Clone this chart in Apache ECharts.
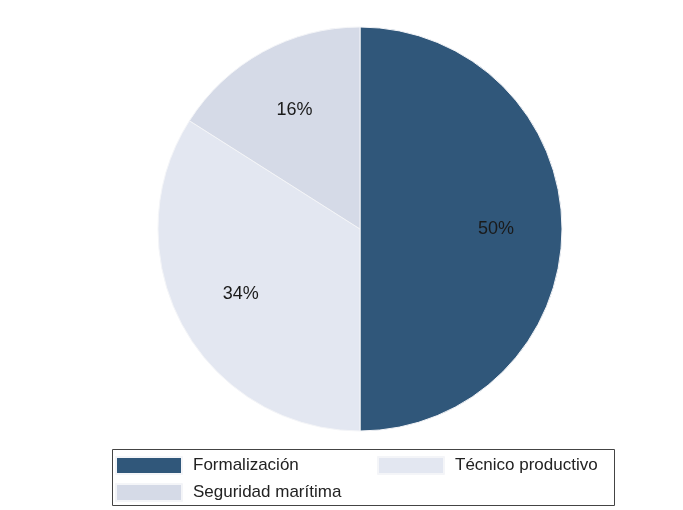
<!DOCTYPE html>
<html>
<head>
<meta charset="utf-8">
<script src="https://cdn.jsdelivr.net/npm/echarts@6/dist/echarts.min.js"></script>
<style>html,body{margin:0;padding:0;background:#fff;}#c{width:683px;height:510px;}</style>
</head>
<body>
<div id="c"></div>
<script>
const categories = ['Formalización', 'Técnico productivo', 'Seguridad marítima'];
const values = [50, 34, 16];
const colors = ['#30577A', '#E3E7F1', '#D5DAE7'];

const chart = echarts.init(document.getElementById('c'), null, {renderer: 'canvas'});
const data = categories.map((n, i) => ({name: n, value: values[i], itemStyle: {color: colors[i]}}));
const font = 'Liberation Sans, Arial, sans-serif';
const legendText = {fontFamily: font, fontSize: 17, color: '#222', padding: [0, 0, 0, 6], lineHeight: 17};
chart.setOption({
  animation: false,
  backgroundColor: '#fff',
  legend: [
    {
      data: [categories[0], categories[2]],
      orient: 'vertical', left: 115, top: 456, padding: 0,
      itemWidth: 66, itemHeight: 17, itemGap: 8, icon: 'rect',
      textStyle: legendText, selectedMode: false
    },
    {
      data: [categories[1]],
      orient: 'vertical', left: 377, top: 456, padding: 0,
      itemWidth: 66, itemHeight: 17, itemGap: 8, icon: 'rect',
      textStyle: legendText, selectedMode: false
    }
  ],
  graphic: [{
    type: 'rect', left: 110, top: 447, silent: true,
    shape: {width: 502, height: 56},
    style: {fill: 'none', stroke: '#444', lineWidth: 1}
  }],
  series: [
    {
      type: 'pie', center: [360, 229], radius: 202, startAngle: 90, clockwise: true,
      data: data, label: {show: false}, labelLine: {show: false},
      itemStyle: {borderColor: '#f4f5f8', borderWidth: 1},
      emphasis: {disabled: true}, silent: true
    },
    {
      type: 'pie', center: [360, 229], radius: 266, startAngle: 90, clockwise: true,
      data: categories.map((n, i) => ({name: n, value: values[i]})),
      itemStyle: {color: 'rgba(0,0,0,0)', borderWidth: 0},
      label: {show: true, position: 'inside', formatter: '{d}%', fontFamily: font, fontSize: 18, color: '#1a1a1a'},
      labelLine: {show: false}, emphasis: {disabled: true}, silent: true, legendHoverLink: false
    }
  ]
});
</script>
</body>
</html>
